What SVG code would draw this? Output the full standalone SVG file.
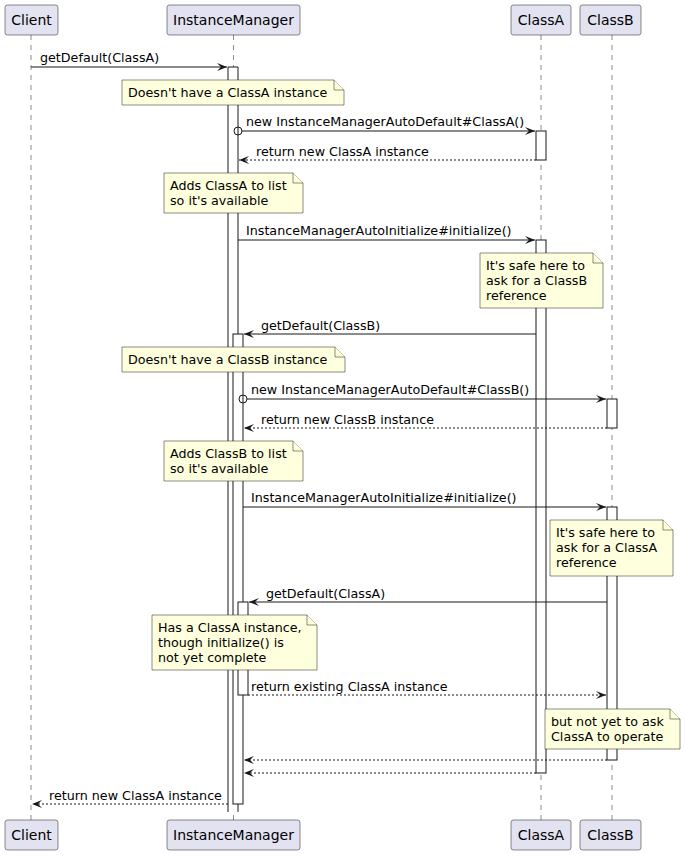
<svg xmlns="http://www.w3.org/2000/svg" width="685" height="856" viewBox="0 0 685 856">
<defs>
<style>
.part{fill:#E2E2F0;stroke:#181818;stroke-width:0.5}
.ptxt{font-family:"DejaVu Sans",sans-serif;font-size:14px;fill:#000;text-anchor:middle}
.life{stroke:#181818;stroke-width:0.5;stroke-dasharray:5,5;fill:none}
.act{fill:#FFFFFF;stroke:#181818;stroke-width:1}
.note{fill:#FEFFDD;stroke:#181818;stroke-width:0.5}
.ntxt{font-family:"DejaVu Sans",sans-serif;font-size:12.7px;fill:#000}
.msg{stroke:#181818;stroke-width:1;fill:none;marker-end:url(#ah)}
.ret{stroke:#181818;stroke-width:1;fill:none;stroke-dasharray:2,2;marker-end:url(#ah)}
.mtxt{font-family:"DejaVu Sans",sans-serif;font-size:12.7px;fill:#000}
</style>
<marker id="ah" viewBox="0 0 10 8" refX="10" refY="4" markerWidth="10" markerHeight="8" markerUnits="userSpaceOnUse" orient="auto">
<path d="M0,0 L10,4 L0,8 L4,4 Z" fill="#181818"/>
</marker>
</defs>
<rect width="685" height="856" fill="#FFFFFF"/>

<g id="lifelines">
<line class="life" x1="31" y1="35" x2="31" y2="820"/>
<line class="life" x1="233.5" y1="35" x2="233.5" y2="820"/>
<line class="life" x1="541" y1="35" x2="541" y2="820"/>
<line class="life" x1="612" y1="35" x2="612" y2="820"/>
</g>

<g id="Client">
<rect class="part" x="5" y="5" width="53" height="30" rx="2.5"/>
<text class="ptxt" x="31.5" y="25">Client</text>
<rect class="part" x="5" y="820" width="53" height="30" rx="2.5"/>
<text class="ptxt" x="31.5" y="840">Client</text>
</g>
<g id="InstanceManager">
<rect class="part" x="167" y="5" width="133" height="30" rx="2.5"/>
<text class="ptxt" x="233.5" y="25">InstanceManager</text>
<rect class="part" x="167" y="820" width="133" height="30" rx="2.5"/>
<text class="ptxt" x="233.5" y="840">InstanceManager</text>
<rect x="228" y="67" width="10" height="745" fill="#FFFFFF"/>
<path d="M228,812 V67 H238 V812" fill="none" stroke="#181818" stroke-width="1"/>
<rect class="act" x="233" y="334" width="10" height="470"/>
<rect class="act" x="238" y="602" width="10" height="93"/>
</g>
<g id="ClassA">
<rect class="part" x="511" y="5" width="60" height="30" rx="2.5"/>
<text class="ptxt" x="541" y="25">ClassA</text>
<rect class="part" x="511" y="820" width="60" height="30" rx="2.5"/>
<text class="ptxt" x="541" y="840">ClassA</text>
<rect class="act" x="536" y="131" width="10" height="29"/>
<rect class="act" x="536" y="240" width="10" height="533"/>
</g>
<g id="ClassB">
<rect class="part" x="580" y="5" width="61" height="30" rx="2.5"/>
<text class="ptxt" x="610.5" y="25">ClassB</text>
<rect class="part" x="580" y="820" width="61" height="30" rx="2.5"/>
<text class="ptxt" x="610.5" y="840">ClassB</text>
<rect class="act" x="607" y="399" width="10" height="29"/>
<rect class="act" x="607" y="507" width="10" height="253"/>
</g>

<g id="connectors">
<line class="msg" x1="31" y1="67" x2="227" y2="67"/>
<text class="mtxt" x="40" y="62">getDefault(ClassA)</text>

<circle cx="238" cy="131" r="4" fill="none" stroke="#181818" stroke-width="1"/>
<line class="msg" x1="242" y1="131" x2="535" y2="131"/>
<text class="mtxt" x="246" y="126">new InstanceManagerAutoDefault#ClassA()</text>

<line class="ret" x1="536" y1="160" x2="239" y2="160"/>
<text class="mtxt" x="256" y="156">return new ClassA instance</text>

<line class="msg" x1="238" y1="240" x2="535" y2="240"/>
<text class="mtxt" x="246" y="235">InstanceManagerAutoInitialize#initialize()</text>

<line class="msg" x1="536" y1="334" x2="244" y2="334"/>
<text class="mtxt" x="261" y="330">getDefault(ClassB)</text>

<circle cx="243" cy="399" r="4" fill="none" stroke="#181818" stroke-width="1"/>
<line class="msg" x1="247" y1="399" x2="606" y2="399"/>
<text class="mtxt" x="251" y="394">new InstanceManagerAutoDefault#ClassB()</text>

<line class="ret" x1="607" y1="428" x2="244" y2="428"/>
<text class="mtxt" x="261" y="424">return new ClassB instance</text>

<line class="msg" x1="243" y1="507" x2="606" y2="507"/>
<text class="mtxt" x="251" y="502">InstanceManagerAutoInitialize#initialize()</text>

<line class="msg" x1="607" y1="602" x2="249" y2="602"/>
<text class="mtxt" x="266" y="598">getDefault(ClassA)</text>

<line class="ret" x1="248" y1="695" x2="606" y2="695"/>
<text class="mtxt" x="251" y="691">return existing ClassA instance</text>

<line class="ret" x1="607" y1="760" x2="244" y2="760"/>
<line class="ret" x1="536" y1="773" x2="244" y2="773"/>

<line class="ret" x1="228" y1="804" x2="32" y2="804"/>
<text class="mtxt" x="49" y="800">return new ClassA instance</text>
</g>

<g id="note1">
<path class="note" d="M122,80 L122,105 L344,105 L344,90 L334,80 Z"/>
<path class="note" d="M334,80 L334,90 L344,90"/>
<text class="ntxt" x="128" y="97">Doesn't have a ClassA instance</text>
</g>
<g id="note2">
<path class="note" d="M164,173 L164,213 L303,213 L303,183 L293,173 Z"/>
<path class="note" d="M293,173 L293,183 L303,183"/>
<text class="ntxt" x="170" y="190">Adds ClassA to list</text>
<text class="ntxt" x="170" y="205">so it's available</text>
</g>
<g id="note3">
<path class="note" d="M480,253 L480,308 L603,308 L603,263 L593,253 Z"/>
<path class="note" d="M593,253 L593,263 L603,263"/>
<text class="ntxt" x="486" y="270">It's safe here to</text>
<text class="ntxt" x="486" y="285">ask for a ClassB</text>
<text class="ntxt" x="486" y="300">reference</text>
</g>
<g id="note4">
<path class="note" d="M122,347 L122,372 L345,372 L345,357 L335,347 Z"/>
<path class="note" d="M335,347 L335,357 L345,357"/>
<text class="ntxt" x="128" y="364">Doesn't have a ClassB instance</text>
</g>
<g id="note5">
<path class="note" d="M164,441 L164,481 L303,481 L303,451 L293,441 Z"/>
<path class="note" d="M293,441 L293,451 L303,451"/>
<text class="ntxt" x="170" y="458">Adds ClassB to list</text>
<text class="ntxt" x="170" y="473">so it's available</text>
</g>
<g id="note6">
<path class="note" d="M550,520 L550,576 L673,576 L673,530 L663,520 Z"/>
<path class="note" d="M663,520 L663,530 L673,530"/>
<text class="ntxt" x="556" y="537">It's safe here to</text>
<text class="ntxt" x="556" y="552">ask for a ClassA</text>
<text class="ntxt" x="556" y="567">reference</text>
</g>
<g id="note7">
<path class="note" d="M152,615 L152,670 L317,670 L317,625 L307,615 Z"/>
<path class="note" d="M307,615 L307,625 L317,625"/>
<text class="ntxt" x="158" y="632">Has a ClassA instance,</text>
<text class="ntxt" x="158" y="647">though initialize() is</text>
<text class="ntxt" x="158" y="662">not yet complete</text>
</g>
<g id="note8">
<path class="note" d="M545,709 L545,749 L680,749 L680,719 L670,709 Z"/>
<path class="note" d="M670,709 L670,719 L680,719"/>
<text class="ntxt" x="551" y="726">but not yet to ask</text>
<text class="ntxt" x="551" y="741">ClassA to operate</text>
</g>
</svg>
